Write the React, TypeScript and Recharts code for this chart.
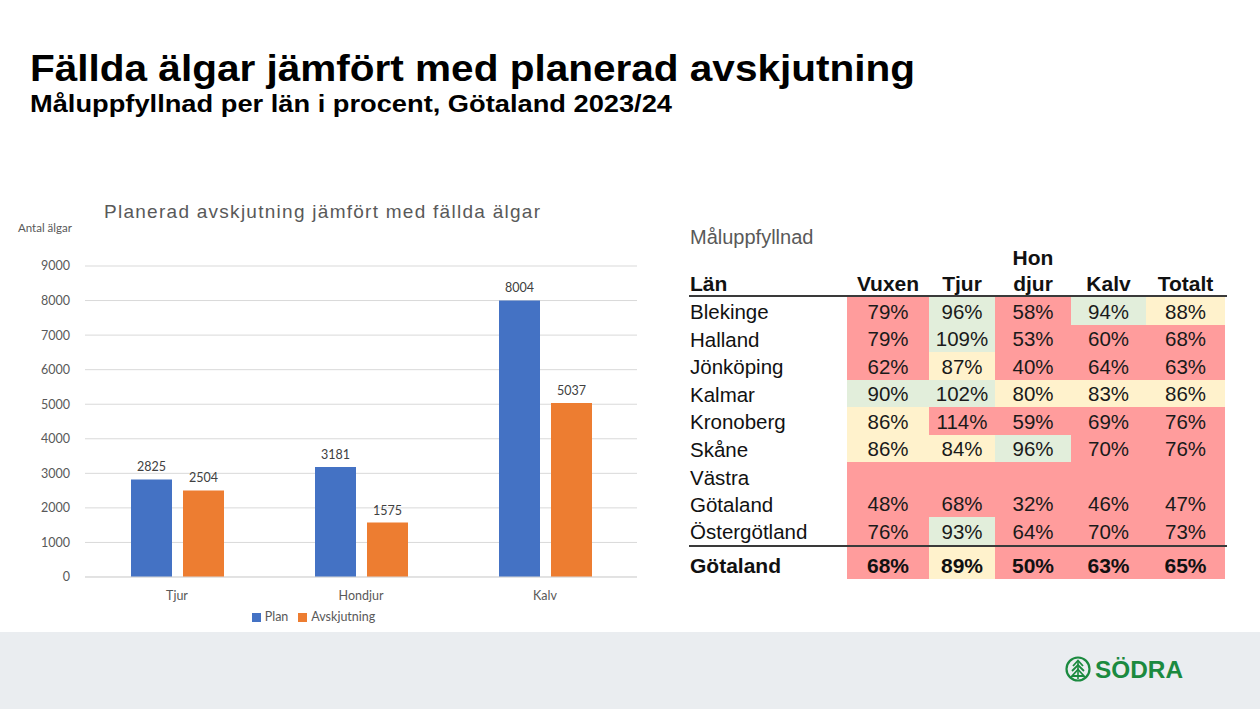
import React from "react";
import { BarChart, Bar, XAxis, YAxis, CartesianGrid, Legend, LabelList } from "recharts";

// ---- Chart data ----
const categories = ["Tjur", "Hondjur", "Kalv"];
const planValues = [2825, 3181, 8004];
const avskjutningValues = [2504, 1575, 5037];
const yTicks = [0, 1000, 2000, 3000, 4000, 5000, 6000, 7000, 8000, 9000];
const seriesOrder = ["Plan", "Avskjutning"];

// ---- Table data ----
const lanNames = ["Blekinge", "Halland", "Jönköping", "Kalmar", "Kronoberg", "Skåne", "Västra Götaland", "Östergötland"];
const vuxen = [79, 79, 62, 90, 86, 86, 48, 76];
const tjur = [96, 109, 87, 102, 114, 84, 68, 93];
const hondjur = [58, 53, 40, 80, 59, 96, 32, 64];
const kalv = [94, 60, 64, 83, 69, 70, 46, 70];
const totalt = [88, 68, 63, 86, 76, 76, 47, 73];
const totalLabel = "Götaland";
const totalRow = [68, 89, 50, 63, 65];
const headers = ["Län", "Vuxen", "Tjur", "Hon\ndjur", "Kalv", "Totalt"];

const chartData = categories.map((c, i) => ({
  name: c,
  Plan: planValues[i],
  Avskjutning: avskjutningValues[i],
}));

const RED = "#ff9c9c";
const YELLOW = "#fff2cc";
const GREEN = "#e2eedb";
function cellColor(v: number) {
  if (v < 80 || v > 110) return RED;
  if (v < 90) return YELLOW;
  return GREEN;
}

const colX = [689, 847, 929, 995, 1071, 1146, 1225];
const rowHeights = [27.5, 27.5, 27.5, 27.5, 27.5, 27.5, 55, 27.5];
const tableTop = 297;

const AXIS_FONT = "Lato, 'Open Sans', sans-serif";
const ARIAL = "'Liberation Sans', Arial, sans-serif";

function Table() {
  const cols = [vuxen, tjur, hondjur, kalv, totalt];
  const cells: React.ReactNode[] = [];
  let y = tableTop;
  lanNames.forEach((name, r) => {
    const h = rowHeights[r];
    cells.push(
      <div
        key={"n" + r}
        style={{
          position: "absolute",
          left: colX[0] + 1,
          top: y + 1,
          height: h,
          width: colX[1] - colX[0],
          display: "flex",
          flexDirection: "column",
          justifyContent: "center",
          fontSize: 20.5,
          lineHeight: "27px",
          color: "#111",
        }}
      >
        {name.includes(" ") ? name.split(" ").map((p, k) => <div key={k}>{p}</div>) : name}
      </div>
    );
    cols.forEach((col, c) => {
      const v = col[r];
      cells.push(
        <div
          key={"c" + r + "_" + c}
          style={{
            position: "absolute",
            left: colX[c + 1],
            top: y,
            width: colX[c + 2] - colX[c + 1],
            height: h,
            background: cellColor(v),
            display: "flex",
            alignItems: h > 30 ? "flex-end" : "center",
            justifyContent: "center",
            fontSize: 20.5,
            lineHeight: "27px",
            paddingTop: 1,
            boxSizing: "border-box",
            color: "#1a1a1a",
          }}
        >
          {v + "%"}
        </div>
      );
    });
    y += h;
  });
  // total row
  const ty = 547;
  const th = 32;
  cells.push(
    <div
      key="tn"
      style={{
        position: "absolute",
        left: colX[0] + 1,
        top: ty,
        height: th,
        display: "flex",
        alignItems: "flex-end",
        paddingBottom: 1,
        boxSizing: "border-box",
        fontSize: 21,
        fontWeight: "bold",
        color: "#111",
      }}
    >
      {totalLabel}
    </div>
  );
  totalRow.forEach((v, c) => {
    cells.push(
      <div
        key={"t" + c}
        style={{
          position: "absolute",
          left: colX[c + 1],
          top: ty,
          width: colX[c + 2] - colX[c + 1],
          height: th,
          background: cellColor(v),
          display: "flex",
          alignItems: "flex-end",
          justifyContent: "center",
          paddingBottom: 1,
          boxSizing: "border-box",
          fontSize: 21,
          fontWeight: "bold",
          color: "#111",
        }}
      >
        {v + "%"}
      </div>
    );
  });
  // headers
  headers.forEach((hd, c) => {
    const left = colX[c];
    const w = colX[c + 1] - colX[c];
    cells.push(
      <div
        key={"h" + c}
        style={{
          position: "absolute",
          left: c === 0 ? left + 1 : left,
          width: w,
          top: 245,
          height: 52,
          display: "flex",
          flexDirection: "column",
          justifyContent: "flex-end",
          alignItems: c === 0 ? "flex-start" : "center",
          fontSize: 21,
          fontWeight: "bold",
          lineHeight: "26px",
          color: "#111",
        }}
      >
        {hd.split("\n").map((p, k) => (
          <div key={k}>{p}</div>
        ))}
      </div>
    );
  });
  return (
    <div style={{ position: "absolute", left: 0, top: 0, fontFamily: ARIAL }}>
      <div style={{ position: "absolute", left: 690, top: 226, fontSize: 20, color: "#595959" }}>Måluppfyllnad</div>
      {cells}
      <div style={{ position: "absolute", left: colX[0], top: 295, width: colX[6] - colX[0] + 2, height: 2, background: "#3a3a3a" }} />
      <div style={{ position: "absolute", left: colX[0], top: 544.5, width: colX[6] - colX[0] + 2, height: 2, background: "#3a3a3a" }} />
    </div>
  );
}

function Logo() {
  const g = "#1b8a3f";
  return (
    <svg style={{ position: "absolute", left: 0, top: 0 }} width={1260} height={709}>
      <circle cx={1078} cy={669} r={11.5} fill="none" stroke={g} strokeWidth={2.2} />
      <polyline points="1073,666 1078,660.5 1083,666" fill="none" stroke={g} strokeWidth={1.8} />
      <polyline points="1072,671 1078,665 1084,671" fill="none" stroke={g} strokeWidth={1.8} />
      <polygon points="1072,676 1078,669.5 1084,676" fill="none" stroke={g} strokeWidth={1.8} />
      <line x1={1078} y1={661} x2={1078} y2={679} stroke={g} strokeWidth={1.6} />
      <text x={1095} y={678} fontFamily={ARIAL} fontWeight="bold" fontSize={24} fill={g} textLength={88} lengthAdjust="spacingAndGlyphs">
        SÖDRA
      </text>
    </svg>
  );
}

function Titles() {
  return (
    <svg style={{ position: "absolute", left: 0, top: 0 }} width={1260} height={709}>
      <text x={30} y={81} fontFamily={ARIAL} fontWeight="bold" fontSize={37} fill="#000" textLength={885} lengthAdjust="spacingAndGlyphs">
        Fällda älgar jämfört med planerad avskjutning
      </text>
      <text x={30} y={112} fontFamily={ARIAL} fontWeight="bold" fontSize={24} fill="#000" textLength={642} lengthAdjust="spacingAndGlyphs">
        Måluppfyllnad per län i procent, Götaland 2023/24
      </text>
      <text x={104} y={218} fontFamily={ARIAL} fontSize={19} fill="#595959" textLength={436} lengthAdjust="spacing">
        Planerad avskjutning jämfört med fällda älgar
      </text>
      <text x={18} y={232} fontFamily={AXIS_FONT} fontSize={11.5} fill="#595959">
        Antal älgar
      </text>
    </svg>
  );
}

export default function App() {
  return (
    <div style={{ position: "absolute", left: 0, top: 0, width: 1260, height: 709, background: "#fff", overflow: "hidden" }}>
      <div style={{ position: "absolute", left: 0, top: 632, width: 1260, height: 77, background: "#eaedf0" }} />
      <Titles />
      <div style={{ position: "absolute", left: 0, top: 240 }}>
        <BarChart
          width={660}
          height={400}
          data={chartData}
          margin={{ top: 26, right: 23, left: 0, bottom: 13 }}
          barCategoryGap="25%"
          barGap={11}
        >
          <CartesianGrid vertical={false} stroke="#d9d9d9" />
          <XAxis
            dataKey="name"
            axisLine={{ stroke: "#d9d9d9" }}
            tickLine={false}
            tickMargin={8}
            height={30}
            tick={{ fill: "#595959", fontSize: 12.5, fontFamily: AXIS_FONT }}
          />
          <YAxis
            domain={[0, 9000]}
            ticks={yTicks}
            width={85}
            axisLine={false}
            tickLine={false}
            tickMargin={9}
            interval={0}
            tick={{ fill: "#595959", fontSize: 12.5, fontFamily: AXIS_FONT }}
          />
          <Legend
            verticalAlign="bottom"
            iconType="square"
            iconSize={9}
            height={20}
            itemSorter={(item: any) => seriesOrder.indexOf(String(item.dataKey ?? item.value))}
            formatter={(value: string) => (
              <span style={{ color: "#595959", fontSize: 12.5, fontFamily: AXIS_FONT }}>{value}</span>
            )}
          />
          <Bar dataKey="Plan" fill="#4472c4" isAnimationActive={false}>
            <LabelList dataKey="Plan" position="top" offset={8} fill="#404040" fontSize={12.5} fontFamily={AXIS_FONT} />
          </Bar>
          <Bar dataKey="Avskjutning" fill="#ed7d31" isAnimationActive={false}>
            <LabelList dataKey="Avskjutning" position="top" offset={8} fill="#404040" fontSize={12.5} fontFamily={AXIS_FONT} />
          </Bar>
        </BarChart>
      </div>
      <Table />
      <Logo />
    </div>
  );
}
